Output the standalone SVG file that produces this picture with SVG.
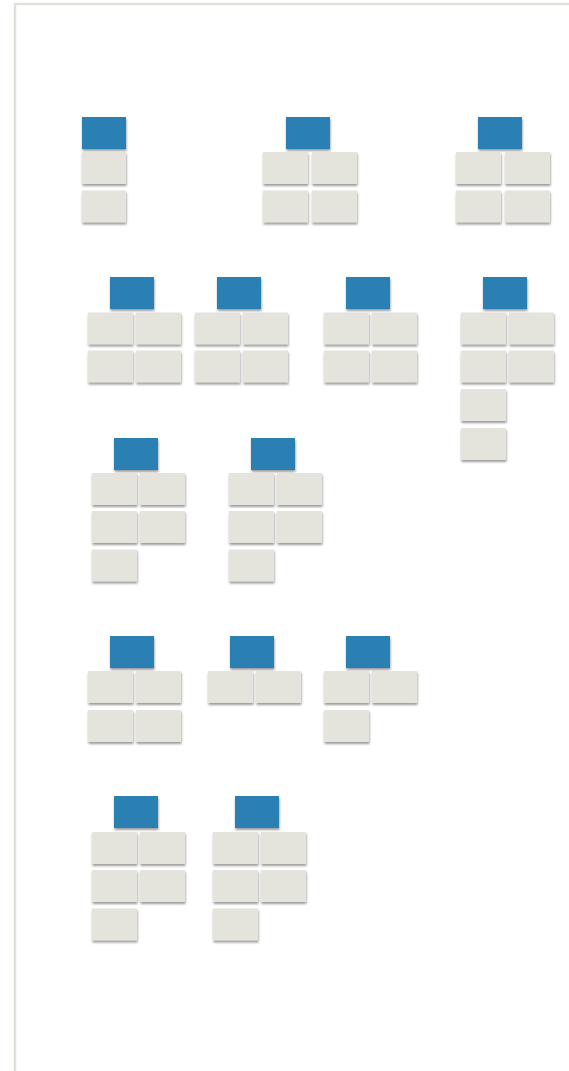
<svg xmlns="http://www.w3.org/2000/svg" width="569" height="1071" viewBox="0 0 569 1071">
<defs>
<filter id="sh" x="-20%" y="-20%" width="140%" height="150%">
<feDropShadow dx="0.5" dy="2" stdDeviation="0.8" flood-color="#7a7a7a" flood-opacity="0.75"/>
</filter>
</defs>
<style>
.frame{fill:none;stroke:#e1e1d9;stroke-width:2.5}
.h{fill:#2980b2;filter:url(#sh)}
.c{fill:#e4e4dd;filter:url(#sh)}
</style>
<rect class="frame" x="15" y="4" width="600" height="1100"/>
<g id="g1">
<rect class="h" x="82" y="117" width="44" height="32"/>
<rect class="c" x="82" y="152" width="44" height="32"/>
<rect class="c" x="82" y="190.5" width="44" height="32"/>
</g>
<g id="g2">
<rect class="h" x="286" y="117" width="44" height="32"/>
<rect class="c" x="263" y="152" width="45" height="32"/>
<rect class="c" x="312" y="152" width="45" height="32"/>
<rect class="c" x="263" y="190.5" width="45" height="32"/>
<rect class="c" x="312" y="190.5" width="45" height="32"/>
</g>
<g id="g3">
<rect class="h" x="478" y="117" width="44" height="32"/>
<rect class="c" x="456" y="152" width="45" height="32"/>
<rect class="c" x="505" y="152" width="45" height="32"/>
<rect class="c" x="456" y="190.5" width="45" height="32"/>
<rect class="c" x="505" y="190.5" width="45" height="32"/>
</g>
<g id="g4">
<rect class="h" x="110" y="277" width="44" height="32"/>
<rect class="c" x="88" y="312.5" width="45" height="32"/>
<rect class="c" x="136" y="312.5" width="45" height="32"/>
<rect class="c" x="88" y="350.5" width="45" height="32"/>
<rect class="c" x="136" y="350.5" width="45" height="32"/>
</g>
<g id="g5">
<rect class="h" x="217" y="277" width="44" height="32"/>
<rect class="c" x="195" y="312.5" width="45" height="32"/>
<rect class="c" x="243" y="312.5" width="45" height="32"/>
<rect class="c" x="195" y="350.5" width="45" height="32"/>
<rect class="c" x="243" y="350.5" width="45" height="32"/>
</g>
<g id="g6">
<rect class="h" x="346" y="277" width="44" height="32"/>
<rect class="c" x="324" y="312.5" width="45" height="32"/>
<rect class="c" x="372" y="312.5" width="45" height="32"/>
<rect class="c" x="324" y="350.5" width="45" height="32"/>
<rect class="c" x="372" y="350.5" width="45" height="32"/>
</g>
<g id="g7">
<rect class="h" x="483" y="277" width="44" height="32"/>
<rect class="c" x="461" y="312.5" width="45" height="32"/>
<rect class="c" x="509" y="312.5" width="45" height="32"/>
<rect class="c" x="461" y="350.5" width="45" height="32"/>
<rect class="c" x="509" y="350.5" width="45" height="32"/>
<rect class="c" x="461" y="389" width="45" height="32"/>
<rect class="c" x="461" y="428" width="45" height="32"/>
</g>
<g id="g8">
<rect class="h" x="114" y="438" width="44" height="32"/>
<rect class="c" x="92" y="473" width="45" height="32"/>
<rect class="c" x="140" y="473" width="45" height="32"/>
<rect class="c" x="92" y="511" width="45" height="32"/>
<rect class="c" x="140" y="511" width="45" height="32"/>
<rect class="c" x="92" y="549.5" width="45" height="32"/>
</g>
<g id="g9">
<rect class="h" x="251" y="438" width="44" height="32"/>
<rect class="c" x="229" y="473" width="45" height="32"/>
<rect class="c" x="277" y="473" width="45" height="32"/>
<rect class="c" x="229" y="511" width="45" height="32"/>
<rect class="c" x="277" y="511" width="45" height="32"/>
<rect class="c" x="229" y="549.5" width="45" height="32"/>
</g>
<g id="g10">
<rect class="h" x="110" y="636" width="44" height="32"/>
<rect class="c" x="88" y="671" width="45" height="32"/>
<rect class="c" x="136" y="671" width="45" height="32"/>
<rect class="c" x="88" y="710" width="45" height="32"/>
<rect class="c" x="136" y="710" width="45" height="32"/>
</g>
<g id="g11">
<rect class="h" x="230" y="636" width="44" height="32"/>
<rect class="c" x="208" y="671" width="45" height="32"/>
<rect class="c" x="256" y="671" width="45" height="32"/>
</g>
<g id="g12">
<rect class="h" x="346" y="636" width="44" height="32"/>
<rect class="c" x="324" y="671" width="45" height="32"/>
<rect class="c" x="372" y="671" width="45" height="32"/>
<rect class="c" x="324" y="710" width="45" height="32"/>
</g>
<g id="g13">
<rect class="h" x="114" y="796" width="44" height="32"/>
<rect class="c" x="92" y="832" width="45" height="32"/>
<rect class="c" x="140" y="832" width="45" height="32"/>
<rect class="c" x="92" y="870" width="45" height="32"/>
<rect class="c" x="140" y="870" width="45" height="32"/>
<rect class="c" x="92" y="908.5" width="45" height="32"/>
</g>
<g id="g14">
<rect class="h" x="235" y="796" width="44" height="32"/>
<rect class="c" x="213" y="832" width="45" height="32"/>
<rect class="c" x="261" y="832" width="45" height="32"/>
<rect class="c" x="213" y="870" width="45" height="32"/>
<rect class="c" x="261" y="870" width="45" height="32"/>
<rect class="c" x="213" y="908.5" width="45" height="32"/>
</g>
<g id="connectors"/>
</svg>
